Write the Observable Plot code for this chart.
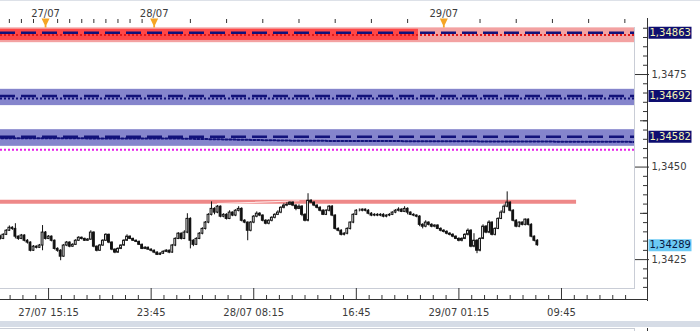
<!DOCTYPE html>
<html><head><meta charset="utf-8">
<script src="https://cdn.jsdelivr.net/npm/d3@7"></script>
<script src="https://cdn.jsdelivr.net/npm/@observablehq/plot@0.6"></script>
<style>
body{margin:0;background:#fff;}
#wrap{position:relative;width:700px;height:331px;overflow:hidden;font-family:"DejaVu Sans";}
.deco{position:absolute;}
</style></head><body><div id="wrap"></div>
<script>
// ---- data (prices stored as 1e-5 above BASE) ----
const BASE = 1.34;
const barStart = Date.UTC(2011, 6, 27, 11, 0); // first 15-minute bar
const barMinutes = 15;
const opens = [320,312,306,317,328,336,333,312,306,315, 301,296,274,285,282,288,323,306,312,301,
279,274,258,288,296,285,290,301,309,306, 301,304,323,285,274,288,301,317,296,277,
269,279,288,301,312,306,301,298,290,279, 282,277,274,269,263,266,271,274,269,288,
306,320,306,323,360,301,290,306,320,333, 350,371,387,377,393,366,371,360,377,369,
382,387,355,350,328,350,366,374,369,355, 347,355,363,371,377,390,396,398,404,396,
387,393,371,355,409,404,396,390,382,371, 382,393,369,333,328,317,320,333,350,371,
382,382,385,382,374,369,371,369,371,366, 369,371,377,382,385,379,387,377,371,369,
366,344,339,350,344,339,342,333,328,325, 320,317,312,306,301,306,317,328,285,301,
274,306,339,323,350,317,333,360,377,393, 404,382,355,339,350,344,358,344,312,301];
const highs = [325,316,320,331,341,339,347,314,318,317, 304,298,288,287,291,342,326,315,314,303,
282,277,291,299,298,293,304,312,311,308, 307,328,325,287,291,304,320,319,298,279,
282,290,304,317,314,308,303,300,292,285, 284,279,276,271,269,274,277,276,291,309,
323,322,328,374,363,304,309,323,336,353, 374,406,390,396,395,374,374,382,379,385,
393,390,358,352,353,369,379,377,371,358, 358,366,374,382,393,401,404,406,406,398,
398,396,374,428,412,406,398,393,385,385, 396,396,371,336,331,323,336,352,374,385,
387,387,387,385,377,374,374,374,374,371, 374,379,385,390,387,393,390,379,374,371,
369,347,355,352,347,344,344,336,331,328, 323,320,314,309,309,320,333,331,320,304,
309,344,342,355,352,336,363,382,398,433, 406,385,358,352,352,360,360,347,314,304];
const lows = [308,303,304,315,326,329,306,302,304,298, 292,271,272,279,280,274,303,304,298,276,
270,247,256,285,282,283,288,299,303,299, 299,302,282,271,272,286,299,293,274,266,
267,277,286,299,304,299,296,288,277,277, 275,271,266,261,261,264,269,266,267,285,
304,303,304,320,279,285,288,304,317,330, 347,368,371,374,363,363,357,358,366,366,
379,352,347,301,325,347,363,366,352,344, 344,352,360,369,374,387,393,396,393,382,
385,366,352,352,401,393,387,379,369,369, 379,366,330,325,314,314,317,330,347,369,
379,379,379,371,366,366,366,366,363,363, 366,369,374,379,377,377,371,369,366,363,
339,333,336,341,336,336,331,325,322,317, 314,309,304,298,298,304,314,282,282,266,
271,304,320,320,314,314,331,358,374,390, 379,352,336,336,341,341,341,309,298,286];
const closes = [312,306,317,328,336,333,312,306,315,301, 296,274,285,282,288,323,306,312,301,279,
274,258,288,296,285,290,301,309,306,301, 304,323,285,274,288,301,317,296,277,269,
279,288,301,312,306,301,298,290,279,282, 277,274,269,263,266,271,274,269,288,306,
320,306,323,360,301,290,306,320,333,350, 371,387,377,393,366,371,360,377,369,382,
387,355,350,328,350,366,374,369,355,347, 355,363,371,377,390,396,398,404,396,387,
393,371,355,409,404,396,390,382,371,382, 393,369,333,328,317,320,333,350,371,382,
382,385,382,374,369,371,369,371,366,369, 371,377,382,385,379,387,377,371,369,366,
344,339,350,344,339,342,333,328,325,320, 317,312,306,301,306,317,328,285,301,274,
306,339,323,350,317,333,360,377,393,404, 382,355,339,350,344,358,344,312,301,289];

// levels and zones
const redZone = {lo: 1.34836, hi: 1.34876};
const redZoneStrong = {lo: 1.34842, hi: 1.34872, from: "2011-07-27T11:00Z", to: "2011-07-28T21:54Z"};
const blueZones = [{lo: 1.34666, hi: 1.34710}, {lo: 1.34556, hi: 1.34601}];
const dashedLevels = [1.34863, 1.34692, 1.34582];
const redDotLevel = 1.34857;
const blueDotLevel = 1.34685;
const blueDotLine = [["2011-07-27T11:00Z", 1.34578], ["2011-07-28T02:00Z", 1.34577], ["2011-07-28T12:00Z", 1.34571], ["2011-07-29T16:00Z", 1.34568]];
const magentaLevel = 1.34547;
const resistance = {v: 1.34406, from: "2011-07-27T11:00Z", to: "2011-07-29T11:00Z"};
const faintLine = [["2011-07-28T05:15Z", 1.34401], ["2011-07-28T12:00Z", 1.34409]];

const tagValues = [1.34863, 1.34692, 1.34582, 1.34289];
const tagBg = ["#0e0e70", "#0e0e70", "#0e0e70", "#6ccaf5"];
const tagFg = ["#f6f6b4", "#f6f6b4", "#f6f6b4", "#0a1640"];

const dayLabels = ["27/07", "28/07", "29/07"];
const dayTimes = ["2011-07-27T15:00Z", "2011-07-28T00:00Z", "2011-07-29T00:00Z"];

const xLabels = ["27/07 15:15", "23:45", "28/07 08:15", "16:45", "29/07 01:15", "09:45"];
const xLabelTimes = ["2011-07-27T15:15Z", "2011-07-27T23:45Z", "2011-07-28T08:15Z", "2011-07-28T16:45Z", "2011-07-29T01:15Z", "2011-07-29T09:45Z"];
const yLabelTicks = [1.3425, 1.3450, 1.3475];

const xDomain = [new Date("2011-07-27T11:16Z"), new Date("2011-07-29T15:48Z")];
const yDomain = [1.34172, 1.34877];

// ---- build ----
const P = v => BASE + v / 1e5;
const bars = closes.map((c, i) => ({
  t: new Date(barStart + i * barMinutes * 60000),
  o: P(opens[i]), h: P(highs[i]), l: P(lows[i]), c: P(c)
}));
const fmt4 = d => d.toFixed(4).replace(".", ",");
const fmt5 = d => d.toFixed(5).replace(".", ",");
const majorTimes = xLabelTimes.map(d => new Date(d));
const labelMap = new Map(majorTimes.map((d, i) => [+d, xLabels[i]]));
const step = 510 / 8 * 60000;
const minorTimes = [];
for (let t = +majorTimes[0] - 4 * step; t <= +xDomain[1]; t += step) {
  if (!majorTimes.some(m => Math.abs(+m - t) < 1000)) minorTimes.push(new Date(t));
}
const topTicks = [
  ...d3.utcHour.range(new Date("2011-07-27T12:00Z"), new Date("2011-07-28T00:00Z")),
  ...d3.utcHour.every(3).range(new Date("2011-07-28T00:00Z"), new Date("2011-07-29T16:00Z"))
];
const yMinor = d3.range(0, 29).map(k => 1.34175 + k * 0.00025).filter(v => !yLabelTicks.some(t => Math.abs(t - v) < 1e-7));
const yMid = [1.34375, 1.34625];
const dayMarks = dayTimes.map((t, i) => ({t: new Date(t), label: dayLabels[i]}));
const tags = tagValues.map((v, i) => ({v, bg: tagBg[i], fg: tagFg[i]}));
const tri = {draw(ctx) { ctx.moveTo(-4, -4); ctx.lineTo(4, -4); ctx.lineTo(0.9, 2.5); ctx.lineTo(0.9, 5); ctx.lineTo(-0.9, 5); ctx.lineTo(-0.9, 2.5); ctx.closePath(); }};
const box = {draw(ctx) { ctx.rect(-21.5, -6, 43, 12); }};
const ax = "#333";

const chart = Plot.plot({
  width: 700, height: 331,
  marginLeft: 0, marginRight: 66, marginTop: 27, marginBottom: 43,
  style: {fontFamily: "DejaVu Sans", fontSize: "10px", color: "#3c3c3c", background: "transparent", overflow: "visible"},
  x: {type: "utc", domain: xDomain, axis: null, label: null},
  y: {domain: yDomain, axis: null, label: null},
  color: {type: "identity"},
  marks: [
    Plot.rect([redZone], {y1: "lo", y2: "hi", fill: "#f3a2a2"}),
    Plot.rect([redZoneStrong], {x1: d => new Date(d.from), x2: d => new Date(d.to), y1: "lo", y2: "hi", fill: "#ff4747"}),
    Plot.rect(blueZones, {y1: "lo", y2: "hi", fill: "#8585cc"}),
    Plot.ruleY([redDotLevel], {stroke: "#e01818", strokeWidth: 2, strokeDasharray: "2,2"}),
    Plot.ruleY([blueDotLevel], {stroke: "#12127a", strokeWidth: 2, strokeDasharray: "2,2"}),
    Plot.line(blueDotLine, {x: d => new Date(d[0]), y: d => d[1], stroke: "#12127a", strokeWidth: 2, strokeDasharray: "2,2", clip: true}),
    Plot.ruleY(dashedLevels, {stroke: "#12127a", strokeWidth: 2.5, strokeDasharray: "15,6"}),
    Plot.ruleY([magentaLevel], {stroke: "#e81ee8", strokeWidth: 2, strokeDasharray: "2,2"}),
    Plot.ruleY([resistance], {y: "v", x1: d => new Date(d.from), x2: d => new Date(d.to), stroke: "#ee8888", strokeWidth: 4, clip: true}),
    Plot.line(faintLine, {x: d => new Date(d[0]), y: d => d[1], stroke: "#fde4e4", strokeWidth: 1.2}),
    // candles
    Plot.ruleX(bars, {x: "t", y1: "l", y2: "h", stroke: "#111", strokeWidth: 1, clip: true}),
    Plot.rect(bars, {x1: d => new Date(+d.t - 4.5 * 60000), x2: d => new Date(+d.t + 4.5 * 60000), y1: "o", y2: "c",
      fill: d => d.c >= d.o ? "#ffffff" : "#111111", stroke: "#111", strokeWidth: 1, clip: true}),
    // frame borders
    Plot.frame({anchor: "right", stroke: "#c9cdd6"}),
    Plot.frame({anchor: "bottom", stroke: "#c9cdd6"}),
    Plot.frame({anchor: "bottom", dy: 11, insetRight: -13, stroke: ax}),
    Plot.frame({anchor: "right", dx: 13, insetBottom: -12, insetTop: -9, stroke: ax}),
    // right axis
    Plot.axisY({anchor: "right", ticks: yLabelTicks, tickSize: 14, tickPadding: 3, tickFormat: fmt4, stroke: ax, fill: "#3c3c3c", label: null}),
    Plot.axisY({anchor: "right", ticks: yMinor, tickSize: 5, dx: 8, tickFormat: () => "", stroke: ax, label: null}),
    Plot.axisY({anchor: "right", ticks: yMid, tickSize: 8, dx: 5, tickFormat: () => "", stroke: ax, label: null}),
    // bottom axis
    Plot.axisX({anchor: "bottom", ticks: majorTimes, tickSize: 11, tickFormat: () => "", stroke: ax, label: null}),
    Plot.axisX({anchor: "bottom", ticks: minorTimes, tickSize: 4, dy: 7, tickFormat: () => "", stroke: ax, label: null}),
    Plot.axisX({anchor: "bottom", ticks: majorTimes, tickSize: 0, tickPadding: 20, tickFormat: d => labelMap.get(+d), fill: "#3c3c3c", label: null}),
    // top axis
    Plot.axisX({anchor: "top", ticks: topTicks, tickSize: 4, dy: -5, tickFormat: () => "", stroke: ax, label: null}),
    Plot.dot(dayMarks, {x: "t", frameAnchor: "top", dy: -5, symbol: tri, r: 4, fill: "#f5a524", stroke: "none"}),
    Plot.text(dayMarks, {x: "t", text: "label", frameAnchor: "top", dy: -18, fill: "#3c3c3c"}),
    // price tags
    Plot.dot(tags, {y: "v", frameAnchor: "right", dx: 35.5, symbol: box, r: 5, fill: "bg", stroke: "none"}),
    Plot.text(tags, {y: "v", text: d => fmt5(d.v), frameAnchor: "right", dx: 15, textAnchor: "start", fill: "fg"})
  ]
});
const wrap = document.getElementById("wrap");
wrap.appendChild(chart);
// window chrome
const deco = (css) => { const d = document.createElement("div"); d.className = "deco"; d.style.cssText = css; wrap.appendChild(d); };
deco("left:0;top:0;width:700px;height:1px;background:#dde1e8;");
deco("left:0;top:321px;width:700px;height:6px;background:#d6dce6;");
deco("left:0;top:328px;width:635px;height:1px;background:#c9cdd6;");
deco("left:634px;top:328px;width:1px;height:3px;background:#c9cdd6;");
deco("left:647px;top:328px;width:1px;height:3px;background:#333;");
</script></body></html>
